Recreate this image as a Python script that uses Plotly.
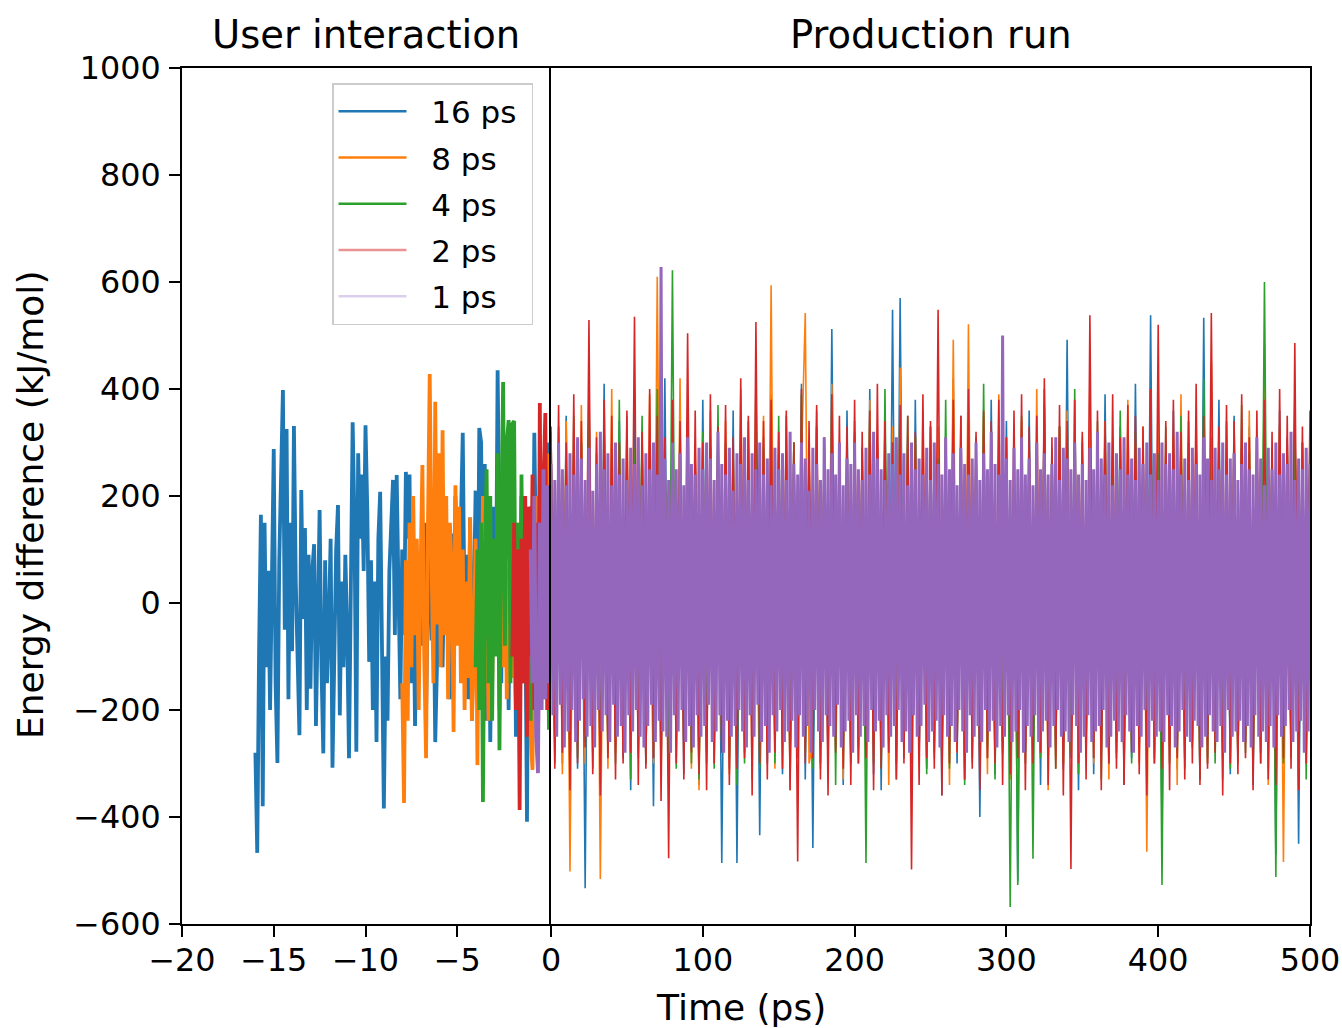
import numpy as np
import plotly.graph_objects as go

# ---------------- data ----------------
# User-interaction phase (time in ps, negative), one value per 0.1 ps
ui_16ps = [-280, -467, -90, 165, -380, 150, -120, 60, -200, 120,
           288, -150, -299, 80, 230, 398, -50, 325, -180, 150,
           -90, 331, 40, -140, -247, 211, -30, 140, -200, 90,
           -160, 60, 110, -230, 20, 174, -120, -281, 80, -150,
           -40, 120, -308, -60, 100, 183, -210, 40, -120, 90,
           -50, -290, 60, 338, 150, -278, 280, 120, 240, 60,
           332, 170, -110, 80, -200, 40, -260, 120, 208, -150,
           -384, -100, -220, 60, 150, 230, -60, 239, 20, -180,
           100, -60, 245, 120, 240, -150, 60, -230, 30, -120,
           90, -80, 150, -210, 20, 120, -70, 60, -260, -100,
           40, 110, -120, 80, -50, 60, -180, 130, -90, 200,
           40, -60, 150, 318, -40, 90, -180, 160, -220, 60,
           210, -140, 327, 300, -90, 260, -220, 100, -260, 50,
           180, -60, 435, 120, -150, 240, -100, 60, -200, 150,
           -80, 90, -250, 120, -60, 200, -150, 40, -409, 100,
           180, -120, 318, 60, -200, 180, -100, 250, -150, 100,
           300]
ui_8ps = [-150, -374, 80, -220, 150, -120, 200, -60, 120, -200,
          60, 258, -100, -290, 140, 428, 80, -150, 376, -40,
          280, -120, 323, -60, 200, -180, 150, 60, -241, 220,
          -80, 180, -150, 100, -200, 40, -140, 160, -220, -100,
          120, -303, 80, -160, 200, -80, 150, -220, 60, -150,
          100, -60, 180, -200, 80, -120, 140, -180, 40, 90,
          -140, 60, -100, 150, -200, 90, -60, 120, -180, 80,
          -250, -312, 160, -80, 200, -150, 60, 180, -100, 120,
          280]
ui_4ps = [-120, 100, -200, 150, -372, 80, 250, -150, 200, -220,
          120, -100, 280, -275, 150, 413, -80, 300, 342, -150,
          335, 340, -200, 150, -250, 240, -120, 200, -180, 100,
          -220, 180, -150, 120, -200, 160, -100, 90, -180, 60,
          -237]
ui_2ps = [-100, 150, -200, 100, -387, 120, -150, 200, -250, 180,
          -100, 240, -200, 150, -280, 374, -150, 220, 355, -200,
          200]
ui_1ps = [100, -150, 200, -250, -318, 150, -200, 250, -180, 220, -150]

# Production run, 0-500 ps
prod_16ps = [320, -260, 280, -300, 350, -240, 260, -310, 300, -533, 380, -280, 250, -330, 410, -270, 300, -250, 340, -290,
             270, -350, 390, -240, 310, -300, 260, -380, 330, -260, 420, -290, 280, -250, 350, -320, 300, -270, 260, -340,
             380, -300, 290, -260, 330, -486, 270, -310, 360, -486, 300, -280, 340, -250, 280, -434, 310, -300, 390, -260,
             270, -320, 350, -290, 300, -260, 410, -330, 280, -458, 330, -270, 300, -310, 512, -250, 290, -340, 360, -280,
             310, -300, 270, -260, 400, -320, 290, -350, 340, -280, 548, -300, 570, -260, 310, -330, 380, -290, 270, -310,
             330, -270, 300, -360, 280, -250, 420, -300, 350, -330, 290, -270, 310, -400, 260, -290, 380, -320, 300, -260,
             340, -300, 270, -520, 310, -280, 360, -250, 290, -340, 400, -300, 280, -270, 330, -310, 492, -290, 300, -350,
             270, -260, 350, -320, 310, -280, 390, -300, 280, -260, 330, -340, 300, -290, 410, -270, 290, -310, 538, -300,
             320, -420, 280, -260, 360, -310, 300, -290, 340, -270, 290, -330, 533, -300, 310, -260, 380, -290, 270, -320,
             350, -300, 290, -260, 330, -340, 300, -280, 440, -310, 280, -470, 360, -290, 310, -260, 380, -450, 300, -280,
             320]
prod_8ps = [300, -280, 260, -320, 340, -502, 280, -250, 370, -300, 290, -270, 320, -516, 260, -310, 400, -280, 300, -260,
            350, -330, 280, -290, 310, -250, 390, -300, 610, -270, 300, -340, 260, -290, 420, -260, 330, -310, 280, -350,
            310, -270, 360, -300, 290, -260, 340, -320, 270, -290, 400, -250, 300, -330, 280, -300, 350, -270, 594, -310,
            290, -260, 330, -350, 300, -280, 270, 542, -300, -260, 360, -310, 280, -290, 410, -270, 300, -330, 260, -300,
            340, -280, 290, -310, 380, -260, 300, -290, 270, -340, 330, -300, 440, -270, 290, -320, 310, -260, 360, -300,
            280, -290, 330, -250, 300, -340, 492, -280, 270, -310, 521, -300, 290, -260, 350, -320, 300, -280, 390, -270,
            310, -330, 280, -300, 340, -260, 290, -310, 400, -280, 300, -350, 270, -290, 330, -300, 360, -260, 290, -320,
            310, -280, 420, -300, 280, -270, 340, -330, 300, -290, 270, -310, 380, -260, 300, -300, 330, -465, 290, -280,
            350, -310, 280, -270, 310, -340, 390, -290, 300, -260, 340, -320, 280, -300, 450, -280, 310, -330, 270, -290,
            330, -300, 290, -260, 360, -310, 300, -280, 480, -340, 280, -300, 320, -484, 290, -270, 340, -310, 300, -260,
            280]
prod_4ps = [280, -300, 330, -270, 260, -320, 350, -290, 300, -260, 410, -310, 280, -340, 320, -280, 270, -300, 380, -260,
            310, -330, 290, -280, 350, -300, 270, -260, 400, -320, 300, -290, 622, -310, 280, -270, 340, -300, 260, -330,
            320, -280, 290, -310, 370, -260, 300, -290, 280, -340, 330, -300, 270, -270, 420, -310, 290, -280, 310, -300,
            350, -260, 280, -330, 300, -290, 390, -280, 270, -310, 330, -300, 290, -260, 360, -340, 300, -280, 280, -300,
            320, -270, 290, -486, 340, -300, 270, -310, 400, -260, 300, -330, 280, -290, 350, -300, 310, -270, 290, -320,
            330, -280, 270, -300, 380, -310, 300, -260, 290, -340, 340, -290, 280, -300, 410, -270, 300, -330, 270, -280,
            310, -568, 290, -527, 350, -300, 280, -478, 300, -290, 370, -260, 290, -310, 330, -300, 270, -280, 400, -320,
            300, -290, 280, -260, 340, -330, 310, -300, 290, -280, 360, -310, 270, -300, 320, -260, 300, -340, 390, -290,
            280, -527, 330, -300, 290, -280, 350, -310, 300, -260, 270, -330, 420, -290, 310, -300, 280, -270, 340, -310,
            300, -290, 370, -280, 280, -320, 310, -300, 600, -260, 290, -512, 330, -300, 280, -290, 350, -270, 300, -330,
            290]
prod_2ps = [330, -310, 370, -280, 300, -350, 390, -300, 340, -270, 529, -320, 310, -360, 380, -290, 350, -330, 300, -300,
            360, -280, 535, -340, 320, -310, 400, -290, 350, -370, 310, -477, 380, -300, 340, -330, 504, -280, 360, -320,
            300, -350, 390, -300, 330, -280, 370, -340, 310, -310, 420, -290, 350, -360, 525, -300, 340, -330, 380, -280,
            320, -310, 360, -350, 300, -483, 400, -300, 340, -290, 370, -330, 310, -360, 390, -280, 350, -310, 330, -340,
            380, -300, 320, -290, 360, -350, 410, -310, 340, -280, 300, -330, 370, -300, 350, -498, 320, -340, 390, -290,
            340, -310, 548, -360, 310, -300, 380, -280, 350, -330, 400, -310, 320, -350, 360, -290, 340, -300, 380, -340,
            310, -320, 360, -290, 390, -350, 330, -300, 350, -280, 420, -340, 310, -310, 370, -360, 340, -497, 380, -300,
            320, -330, 538, -290, 360, -350, 340, -300, 390, -310, 310, -340, 370, -280, 350, -320, 330, -360, 400, -300,
            520, -310, 340, -350, 380, -290, 320, -330, 360, -300, 410, -340, 350, -310, 542, -280, 330, -360, 370, -300,
            340, -320, 390, -290, 310, -350, 360, -300, 380, -330, 320, -340, 400, -290, 350, -310, 486, -350, 330, -300,
            360]
prod_1ps = [260, -210, 230, -250, 300, -190, 250, -270, 220, -240, 280, -200, 240, -260, 310, -220, 270, -180, 230, -250,
            290, -230, 210, -270, 260, -200, 320, -240, 250, -210, 280, -260, 220, -190, 300, -250, 240, -230, 270, -280,
            230, -210, 290, -240, 260, -200, 310, -250, 220, -270, 280, -230, 250, -190, 300, -260, 240, -220, 628, -240,
            270, -250, 230, -280, 300, -210, 250, -240, 280, -200, 220, -260, 310, -230, 260, -270, 240, -210, 290, -250,
            250, -230, 300, -190, 270, -260, 230, -240, 320, -210, 260, -280, 240, -220, 290, -250, 210, -230, 280, -200,
            260, -240, 310, -270, 230, -210, 280, -250, 250, -190, 300, -260, 240, -230, 270, -280, 220, -210, 290, -240,
            250, -200, 280, -260, 230, -240, 320, -220, 260, -270, 240, -210, 300, -250, 270, -230, 210, -280, 290, -200,
            260, -240, 230, -260, 310, -210, 250, -230, 280, -250, 240, -190, 300, -270, 220, -240, 270, -220, 260, -280,
            300, -210, 250, -250, 230, -230, 290, -260, 240, -200, 320, -240, 270, -220, 250, -270, 230, -210, 280, -250,
            260, -230, 310, -200, 240, -260, 280, -240, 220, -280, 300, -210, 250, -250, 270, -230, 240, -190, 290, -260,
            230, -240, 300, -220, 260, -270, 240, -210, 310, -250, 250, -230, 280, -260, 220, -200, 290, -240, 260, -280,
            240, -210, 270, -250, 300, -230, 230, -260, 280, -200, 250, -240, 320, -220, 260, -270, 240, -230, 500, -250,
            270, -210, 230, -260, 290, -240, 250, -200, 310, -280, 240, -230, 270, -250, 220, -210, 300, -260, 250, -240,
            280, -220, 240, -270, 260, -230, 310, -200, 230, -250, 290, -240, 270, -260, 250, -210, 300, -230, 240, -280,
            260, -250, 230, -210, 290, -260, 250, -240, 320, -230, 270, -200, 240, -270, 300, -250, 220, -220, 280, -240,
            250, -260, 310, -210, 240, -240, 270, -280, 230, -230, 290, -250, 260, -200, 300, -270, 240, -220, 280, -250,
            230, -240, 300, -260, 260, -210, 280, -230, 250, -270, 320, -240, 240, -200, 270, -250, 230, -260, 290, -220,
            260, -230, 240, -270, 310, -250, 270, -210, 230, -240, 290, -260, 250, -230, 300, -280, 240, -200, 270, -250,
            280, -240, 230, -220, 260, -260, 300, -230, 250, -270, 240, -210, 310, -250, 270, -240, 220, -260, 290, -230,
            250, -270, 300, -210, 240, -250, 280, -230, 260, -200, 320, -260, 230, -240, 270, -220, 250, -280, 290, -240,
            260]

labels = ["16 ps", "8 ps", "4 ps", "2 ps", "1 ps"]
ui_starts = [-16, -8, -4, -2, -1]
ui_data = [ui_16ps, ui_8ps, ui_4ps, ui_2ps, ui_1ps]
prod_data = [prod_16ps, prod_8ps, prod_4ps, prod_2ps, prod_1ps]
prod_end = 500

y_ticks = [-600, -400, -200, 0, 200, 400, 600, 800, 1000]
x1_ticks = [-20, -15, -10, -5]
x2_ticks = [0, 100, 200, 300, 400, 500]

# ---------------- styling ----------------
line_colors = ["#1f77b4", "#ff7f0e", "#2ca02c", "#d62728", "#9467bd"]
legend_colors = ["#1f77b4", "#ff7f0e", "#2ca02c", "#eb9394", "#dccfee"]
prod_widths = [1.6, 1.6, 1.6, 1.6, 3.0]
W, H = 1342, 1028
FONT = "DejaVu Sans"
NB = "\u00a0"


def lab(v):
    return str(v).replace("-", "\u2212")


fig = go.Figure()

for lbl, start, arr, col in zip(labels, ui_starts, ui_data, line_colors):
    fig.add_trace(go.Scatter(x=np.linspace(start, 0, len(arr)), y=arr, mode="lines",
                             line=dict(color=col, width=3.8), xaxis="x", yaxis="y",
                             showlegend=False, hoverinfo="skip"))

for lbl, arr, col, wd in zip(labels, prod_data, line_colors, prod_widths):
    fig.add_trace(go.Scatter(x=np.linspace(0, prod_end, len(arr)), y=arr, mode="lines",
                             line=dict(color=col, width=wd), xaxis="x2", yaxis="y2",
                             showlegend=False, hoverinfo="skip"))

for lbl, col in zip(labels, legend_colors):
    fig.add_trace(go.Scatter(x=[None], y=[None], mode="lines", name=NB * 2 + lbl + NB,
                             line=dict(color=col, width=2.5), xaxis="x", yaxis="y",
                             legendgroup=lbl, showlegend=True))

axis_common = dict(showline=True, linecolor="black", linewidth=2, mirror=True,
                   showgrid=False, zeroline=False, ticks="outside", ticklen=11,
                   tickwidth=2, tickcolor="black", automargin=False,
                   tickfont=dict(family=FONT, size=31.8, color="black"))

ydom = [1 - 924 / H, 1 - 68 / H]
fig.update_layout(
    width=W, height=H,
    margin=dict(l=0, r=0, t=0, b=0, autoexpand=False),
    paper_bgcolor="white", plot_bgcolor="white",
    font=dict(family=FONT, size=31, color="black"),
    xaxis=dict(domain=[182 / W, 549 / W], range=[-20, 0], anchor="y",
               tickvals=x1_ticks, ticktext=[lab(v) for v in x1_ticks],
               ticklabelstandoff=-4, **axis_common),
    xaxis2=dict(domain=[551 / W, 1310 / W], range=[0, prod_end], anchor="y2",
                tickvals=x2_ticks, ticktext=[lab(v) for v in x2_ticks],
                ticklabelstandoff=-4, **axis_common),
    yaxis=dict(domain=ydom, range=[-600, 1000], anchor="x",
               tickvals=y_ticks, ticktext=[lab(v) for v in y_ticks],
               ticklabelstandoff=2, **axis_common),
    yaxis2=dict(domain=ydom, range=[-600, 1000], anchor="x2", matches="y",
                showline=True, linecolor="black", linewidth=2, mirror=True, automargin=False,
                showgrid=False, zeroline=False, ticks="", showticklabels=False),
    legend=dict(x=332 / W, y=1 - 83 / H, xanchor="left", yanchor="top",
                bgcolor="rgba(255,255,255,0.8)", bordercolor="#cccccc", borderwidth=1.5,
                font=dict(family=FONT, size=31, color="black"),
                itemwidth=68, tracegroupgap=3),
    showlegend=True,
    annotations=[
        dict(text="User interaction", x=(182 + 549) / 2 / W, y=1 - 35 / H, xref="paper", yref="paper",
             showarrow=False, font=dict(family=FONT, size=38.5, color="black"), xanchor="center", yanchor="middle"),
        dict(text="Production run", x=(551 + 1310) / 2 / W, y=1 - 35 / H, xref="paper", yref="paper",
             showarrow=False, font=dict(family=FONT, size=38.5, color="black"), xanchor="center", yanchor="middle"),
        dict(text="Time (ps)", x=741 / W, y=1 - 1007 / H, xref="paper", yref="paper",
             showarrow=False, font=dict(family=FONT, size=36, color="black"), xanchor="center", yanchor="middle"),
        dict(text="Energy difference (kJ/mol)", x=30 / W, y=1 - 505 / H, xref="paper", yref="paper",
             textangle=-90, showarrow=False, font=dict(family=FONT, size=36, color="black"),
             xanchor="center", yanchor="middle"),
    ],
)

fig.write_html("out.html", config={"displayModeBar": False},
               post_script="document.body.style.margin='0';document.body.style.overflow='hidden';")
